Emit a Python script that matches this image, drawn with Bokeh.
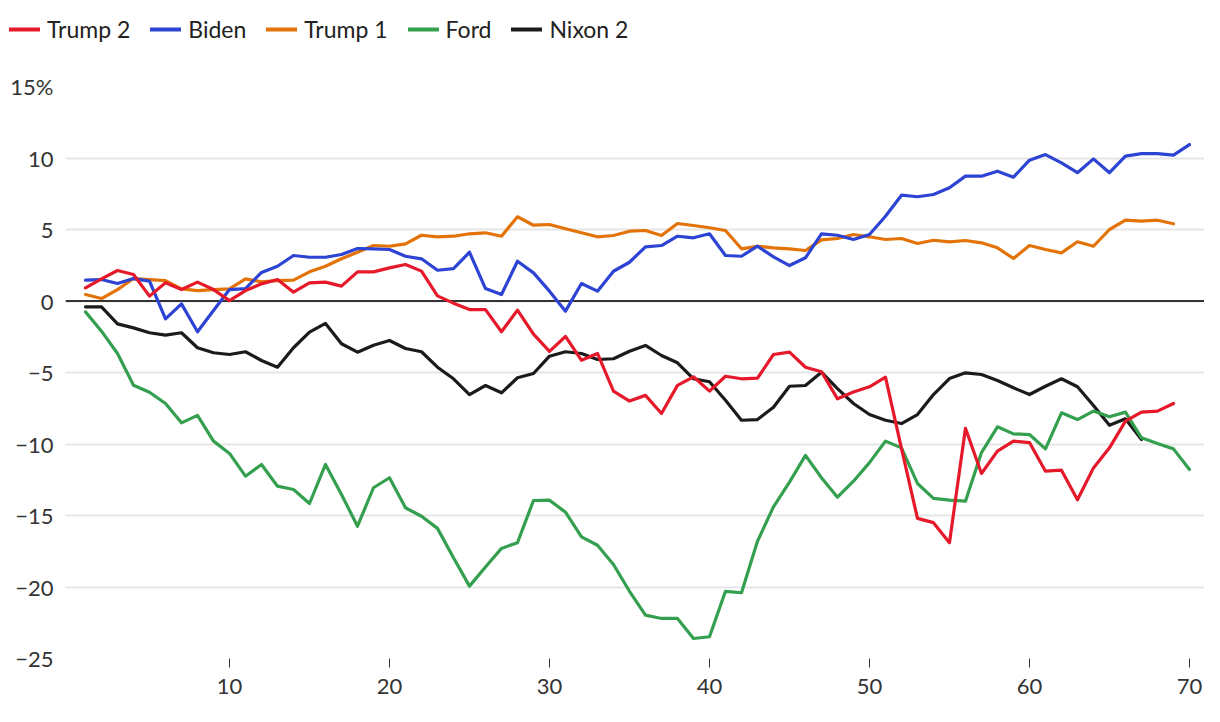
from bokeh.plotting import figure
from bokeh.layouts import column
from bokeh.models import Legend, LegendItem, FixedTicker, Span, Range1d, Plot
from bokeh.embed import file_html
from bokeh.resources import INLINE

days = list(range(1, 71))

trump2 = [0.92, 1.55, 2.13, 1.85, 0.34, 1.27, 0.8, 1.32, 0.8, 0.03,
          0.73, 1.2, 1.5, 0.62, 1.27, 1.32, 1.04, 2.04, 2.04, 2.32,
          2.55, 2.09, 0.36, -0.15, -0.6, -0.6, -2.15, -0.64, -2.32, -3.52,
          -2.48, -4.15, -3.67, -6.3, -7.0, -6.6, -7.87, -5.9, -5.3, -6.3,
          -5.26, -5.44, -5.4, -3.74, -3.58, -4.63, -4.95, -6.84, -6.37, -6.0,
          -5.33, -10.3, -15.2, -15.5, -16.9, -8.9, -12.06, -10.5, -9.8, -9.9,
          -11.9, -11.83, -13.9, -11.67, -10.27, -8.4, -7.77, -7.7, -7.17]

biden = [1.46, 1.5, 1.22, 1.57, 1.39, -1.25, -0.2, -2.15, -0.66, 0.8,
         0.87, 2.0, 2.43, 3.18, 3.06, 3.06, 3.25, 3.67, 3.65, 3.6,
         3.13, 2.95, 2.15, 2.26, 3.41, 0.87, 0.45, 2.78, 1.97, 0.69,
         -0.71, 1.22, 0.69, 2.08, 2.71, 3.79, 3.88, 4.53, 4.42, 4.7,
         3.18, 3.13, 3.83, 3.09, 2.48, 3.02, 4.7, 4.6, 4.3, 4.65,
         5.93, 7.4, 7.29, 7.45, 7.92, 8.73, 8.73, 9.08, 8.66, 9.85,
         10.24, 9.66, 8.97, 9.94, 8.97, 10.13, 10.31, 10.31, 10.2, 10.94]

trump1 = [0.45, 0.17, 0.8, 1.57, 1.5, 1.43, 0.85, 0.73, 0.8, 0.85,
          1.55, 1.34, 1.43, 1.46, 2.04, 2.43, 2.95, 3.41, 3.88, 3.83,
          4.0, 4.6, 4.49, 4.53, 4.7, 4.77, 4.53, 5.89, 5.3, 5.35,
          5.05, 4.77, 4.49, 4.58, 4.88, 4.93, 4.58, 5.42, 5.28, 5.12,
          4.93, 3.65, 3.83, 3.72, 3.65, 3.53, 4.27, 4.37, 4.65, 4.49,
          4.3, 4.37, 4.02, 4.25, 4.14, 4.23, 4.07, 3.72, 2.97, 3.88,
          3.6, 3.37, 4.14, 3.83, 5.0, 5.65, 5.58, 5.65, 5.4]

ford = [-0.76, -2.11, -3.67, -5.89, -6.38, -7.17, -8.52, -8.0, -9.8, -10.66,
        -12.25, -11.43, -12.95, -13.18, -14.16, -11.43, -13.53, -15.75, -13.06, -12.36,
        -14.46, -15.05, -15.9, -17.96, -19.94, -18.6, -17.3, -16.9, -13.95, -13.93,
        -14.77, -16.5, -17.08, -18.43, -20.3, -21.97, -22.2, -22.2, -23.6, -23.48,
        -20.3, -20.4, -16.8, -14.39, -12.67, -10.8, -12.36, -13.72, -12.6, -11.3,
        -9.8, -10.27, -12.76, -13.8, -13.93, -14.0, -10.6, -8.8, -9.29, -9.34,
        -10.34, -7.82, -8.29, -7.7, -8.1, -7.77, -9.57, -9.97, -10.34, -11.78]

nixon2 = [-0.41, -0.41, -1.6, -1.88, -2.22, -2.39, -2.22, -3.27, -3.62, -3.74,
          -3.55, -4.16, -4.63, -3.27, -2.18, -1.57, -2.99, -3.58, -3.09, -2.76,
          -3.32, -3.55, -4.63, -5.44, -6.54, -5.91, -6.42, -5.37, -5.07, -3.86,
          -3.55, -3.67, -4.09, -4.04, -3.51, -3.11, -3.81, -4.32, -5.44, -5.65,
          -6.94, -8.34, -8.29, -7.43, -5.96, -5.91, -4.98, -6.13, -7.17, -7.94,
          -8.34, -8.57, -7.94, -6.54, -5.42, -5.02, -5.14, -5.56, -6.07, -6.54,
          -5.96, -5.44, -6.0, -7.31, -8.69, -8.24, -9.69]

series_names = ["Trump 2", "Biden", "Trump 1", "Ford", "Nixon 2"]
series_values = [trump2, biden, trump1, ford, nixon2]
series_colors = ["#e6192b", "#2d43d3", "#e37307", "#34a04f", "#1b1b1b"]

y_ticks = [-25, -20, -15, -10, -5, 0, 5, 10, 15]
y_tick_labels = ["\u221225", "\u221220", "\u221215", "\u221210", "\u22125", "0", "5", "10", "15%"]
x_ticks = [10, 20, 30, 40, 50, 60, 70]

FONT = "Lato"
TEXT_COLOR = "#333333"
LW = 3.2

# ---- legend strip ----
leg_fig = figure(width=1204, height=64, output_backend="svg", toolbar_location=None,
                 x_axis_type=None, y_axis_type=None, min_border=0,
                 x_range=Range1d(0, 71), y_range=Range1d(-25, 15))
leg_fig.outline_line_color = None
leg_fig.xgrid.visible = False
leg_fig.ygrid.visible = False
leg_items = []
for name, vals, col in zip(series_names, series_values, series_colors):
    r = leg_fig.line(days[:len(vals)], vals, line_color=col, line_width=4,
                     line_cap="round", visible=False)
    leg_items.append(LegendItem(label=name, renderers=[r]))
legend = Legend(items=leg_items, orientation="horizontal", location=(9, 21),
                glyph_width=31, glyph_height=22, label_standoff=7, spacing=20,
                padding=0, margin=0, border_line_color=None, background_fill_alpha=0,
                label_text_font=FONT, label_text_font_size="23px",
                label_text_color="#222222", label_height=24)
leg_fig.add_layout(legend)

# ---- main chart ----
p = figure(width=1204, height=642, output_backend="svg", toolbar_location=None,
           x_range=Range1d(-0.25, 70.94), y_range=Range1d(-25, 15),
           min_border_left=65, min_border_right=0, min_border_top=22, min_border_bottom=48)
p.outline_line_color = None

if "frame_align" in Plot.properties():
    leg_fig.frame_align = False
    p.frame_align = False

p.xgrid.visible = False
p.ygrid.ticker = FixedTicker(ticks=y_ticks)
p.ygrid.grid_line_color = "#e6e6e6"
p.ygrid.grid_line_width = 2

p.yaxis.ticker = FixedTicker(ticks=y_ticks)
p.yaxis.major_label_overrides = {t: l for t, l in zip(y_ticks, y_tick_labels)}
p.yaxis.axis_line_color = None
p.yaxis.major_tick_line_color = None
p.yaxis.major_tick_out = 0
p.yaxis.major_tick_in = 0
p.yaxis.minor_tick_line_color = None
p.yaxis.minor_tick_out = 0
p.yaxis.major_label_standoff = 12
p.yaxis.major_label_text_font = FONT
p.yaxis.major_label_text_font_size = "22px"
p.yaxis.major_label_text_color = TEXT_COLOR

p.xaxis.ticker = FixedTicker(ticks=x_ticks)
p.xaxis.axis_line_color = None
p.xaxis.major_tick_in = 0
p.xaxis.major_tick_out = 9
p.xaxis.major_tick_line_color = TEXT_COLOR
p.xaxis.major_tick_line_width = 1
p.xaxis.minor_tick_line_color = None
p.xaxis.minor_tick_out = 0
p.xaxis.major_label_standoff = 11
p.xaxis.major_label_text_font = FONT
p.xaxis.major_label_text_font_size = "22px"
p.xaxis.major_label_text_color = TEXT_COLOR

zero = Span(location=0, dimension="width", line_color="#333333", line_width=2, level="underlay")
p.add_layout(zero)

for vals, col in reversed(list(zip(series_values, series_colors))):
    p.line(days[:len(vals)], vals, line_color=col, line_width=LW,
           line_join="round", line_cap="round")

layout = column(leg_fig, p, spacing=0)
open("out.html", "w").write(file_html(layout, INLINE))
